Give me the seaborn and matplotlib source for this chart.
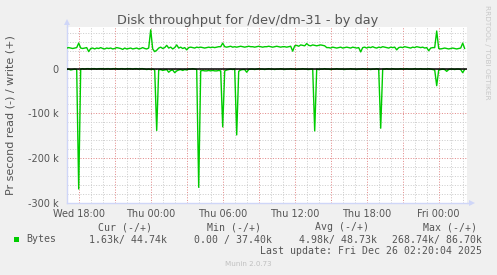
import matplotlib
matplotlib.use("Agg")
import numpy as np
import pandas as pd
import seaborn as sns
import matplotlib.pyplot as plt
import matplotlib.dates as mdates
from matplotlib.ticker import FixedLocator, FuncFormatter
from matplotlib.patches import Rectangle

# ---------------- data (k bytes per second, 10-minute samples) ----------------
start_time = "2025-12-24 17:00"
end_time = "2025-12-26 02:20"
sample_freq = "10min"

write_k = [46, 47, 46, 45, 46, 47,
           57,
           46, 45, 46, 47,
           38,
           45, 46, 44, 46, 45, 47, 45, 44, 46, 45, 46, 44, 45, 47, 46, 45, 43, 46, 44, 45,
           46, 44, 45, 46, 44, 45, 47, 45, 44, 46,
           86.7, 44, 38, 41,
           46, 48, 45, 47, 52, 46, 48, 44,
           47, 53, 46, 48, 45, 47, 42,
           47, 48, 47, 46, 48, 47, 48, 47, 46, 47, 48, 47, 48, 47, 48, 49,
           49, 57,
           49, 48, 49, 50, 48, 49, 48, 49, 50, 49, 48, 49, 50, 49, 49, 48, 49, 50, 49, 48,
           49, 49, 50, 49, 48, 49, 50, 49, 48, 49, 49, 48, 49, 50,
           39,
           51, 52, 50, 53, 52, 51, 56, 52, 51, 53, 52, 51, 52, 53, 52, 51,
           47,
           47, 46, 48, 47, 46, 47, 48, 46, 47, 48, 47, 46, 48, 47, 46, 47,
           37.4,
           47, 48, 46, 48, 47, 49, 47, 46, 48, 47, 49, 48, 47, 46, 48, 47, 48,
           42,
           47, 48, 47, 49, 48, 47, 46, 48, 47, 49, 48, 47, 48, 46, 47,
           40,
           46, 47,
           47, 84,
           45, 44, 45, 46, 45, 44, 45, 46, 45, 44, 45, 46,
           57, 44.7]

read_k = [2, 1, 3, 2, 1, 2,
          268.7,
          1, 0, 1, 0, 0, 1, 0, 0, 1, 0, 0, 0, 1, 0, 0, 1, 0, 0, 0, 1, 0, 0, 1, 0, 0, 0,
          1, 0, 0, 1, 0, 0, 1, 2, 1, 2, 1,
          3, 138, 3,
          2, 4, 3, 2, 8, 4, 3, 9, 5, 3, 2, 4, 2, 3,
          1, 1, 0, 1, 2,
          265,
          5, 4, 5, 5, 4, 5, 4, 5, 5, 4, 5,
          130,
          5, 3, 2, 1, 2, 1,
          148,
          6, 3, 2, 2,
          8,
          2, 1, 1, 2, 1, 0, 1, 1, 2, 1, 0, 1, 1, 2, 1, 1, 0, 1, 2, 1, 1, 0, 1, 1, 2, 1,
          1, 0, 1, 1, 2, 1, 1,
          139,
          1, 2, 1, 1, 0, 1, 1, 2, 1, 1, 0, 1, 1, 1, 2, 1, 1, 0, 1, 1, 2, 1, 1, 0, 1, 1,
          1, 2, 1, 1, 0, 1,
          133,
          1, 1, 0, 1, 1, 0, 1, 1, 1, 0, 1, 1, 0, 1, 1, 1, 0, 1, 1, 0, 1, 1, 1, 0, 1, 2, 3,
          38,
          3, 2, 1, 2, 6, 2, 1, 1, 2, 1, 1, 2, 9, 1.6]

y_major_ticks = [-300000, -200000, -100000, 0]
y_minor_ticks = [-280000, -260000, -240000, -220000, -180000, -160000, -140000, -120000,
                 -80000, -60000, -40000, -20000, 20000, 40000, 60000, 80000]
x_major_hours = [0, 3, 6, 9, 12, 15, 18, 21]
x_minor_hours = [1, 2, 4, 5, 7, 8, 10, 11, 13, 14, 16, 17, 19, 20, 22, 23]
y_min, y_max = -300000, 93000

title = "Disk throughput for /dev/dm-31 - by day"
y_label = "Pr second read (-) / write (+)"
legend_headers = ["Cur (-/+)", "Min (-/+)", "Avg (-/+)", "Max (-/+)"]
legend_values = ["1.63k/ 44.74k", "0.00 / 37.40k", "4.98k/ 48.73k", "268.74k/ 86.70k"]
series_name = "Bytes"
last_update = "Last update: Fri Dec 26 02:20:04 2025"
footer = "Munin 2.0.73"
side_text = "RRDTOOL / TOBI OETIKER"

times = pd.date_range(start_time, periods=len(write_k), freq=sample_freq)
df = pd.DataFrame({
    "time": times,
    "write": np.array(write_k, dtype=float) * 1000,
    "read": -np.array(read_k, dtype=float) * 1000,
})

# ---------------- styling ----------------
sns.set_theme(style="white")
plt.rcParams["font.family"] = ["DejaVu Sans"]

GREEN = "#00CC00"
TEXT = "#555555"
AXISC = "#CFD6F8"
MGRID = "#E28A8A"
GRID = "#CDCDCD"

W, H = 497, 275
fig = plt.figure(figsize=(W / 100, H / 100), dpi=100, facecolor="#F0F0F0")
ax = fig.add_axes([66.7 / W, (H - 203) / H, 400 / W, 176 / H])
ax.set_facecolor("white")

sns.lineplot(data=df, x="time", y="read", color=GREEN, lw=1.0, ax=ax, zorder=3)
sns.lineplot(data=df, x="time", y="write", color=GREEN, lw=1.0, ax=ax, zorder=3)
ax.axhline(0, color="black", lw=1.1, zorder=4)

ax.set_xlim(pd.Timestamp(start_time), pd.Timestamp(end_time))
ax.set_ylim(y_min, y_max)

ax.xaxis.set_major_locator(mdates.HourLocator(byhour=x_major_hours))
ax.xaxis.set_minor_locator(mdates.HourLocator(byhour=x_minor_hours))


def xfmt(v, pos):
    d = mdates.num2date(v)
    return d.strftime("%a %H:%M") if d.hour % 6 == 0 else ""


ax.xaxis.set_major_formatter(FuncFormatter(xfmt))
ax.yaxis.set_major_locator(FixedLocator(y_major_ticks))
ax.yaxis.set_minor_locator(FixedLocator(y_minor_ticks))
ax.yaxis.set_major_formatter(FuncFormatter(lambda v, p: "0" if abs(v) < 1 else f"{int(round(v / 1000))} k"))

dotted = (0, (1, 1.6))
ax.grid(which="minor", color=GRID, linestyle=dotted, lw=0.72)
ax.grid(which="major", color=MGRID, linestyle=dotted, lw=0.72)
ax.set_axisbelow(True)

ax.tick_params(axis="both", which="both", length=2, width=0.72, direction="out",
               labelsize=7, labelcolor=TEXT)
ax.tick_params(axis="both", which="major", color=MGRID)
ax.tick_params(axis="both", which="minor", color=GRID)
ax.tick_params(axis="x", which="major", pad=2.5)
ax.tick_params(axis="y", which="major", pad=3.8)

ax.set_xlabel("")
ax.set_ylabel("")
for s in ["top", "right"]:
    ax.spines[s].set_visible(False)
for s in ["left", "bottom"]:
    ax.spines[s].set_color(AXISC)
    ax.spines[s].set_linewidth(1.0)

# axis arrows
ax.plot([0, 0], [1, 1.025], color=AXISC, lw=1, transform=ax.transAxes, clip_on=False)
ax.plot([0], [1.03], marker="^", ms=4, color=AXISC, transform=ax.transAxes, clip_on=False, mew=0)
ax.plot([1, 1.01], [0, 0], color=AXISC, lw=1, transform=ax.transAxes, clip_on=False)
ax.plot([1.013], [0], marker=">", ms=4, color=AXISC, transform=ax.transAxes, clip_on=False, mew=0)

# ---------------- texts ----------------
def fx(x):
    return x / W


def fy(y):
    return 1 - y / H


fig.text(fx(248), fy(24), title, ha="center", va="baseline", fontsize=9.3, color=TEXT)
fig.text(fx(11), fy(115), y_label, ha="center", va="center", rotation=90, fontsize=8, color=TEXT)
fig.text(fx(487), fy(52), side_text, ha="center", va="center", rotation=270, fontsize=5.3,
         color="#C8C8C8")

mono = "DejaVu Sans Mono"
hdr_x = [98.3, 206.7, 315, 422.7]
val_x = [89.3, 194.3, 299, 392.3]
for x, t in zip(hdr_x, legend_headers):
    fig.text(fx(x), fy(230.5), t, ha="left", va="baseline", fontsize=7.1, family=mono, color=TEXT)
fig.add_artist(Rectangle((fx(14), fy(242.3)), 5.3 / W, 5 / H, transform=fig.transFigure,
                         color=GREEN, lw=0))
fig.text(fx(26.7), fy(242.5), series_name, ha="left", va="baseline", fontsize=7.1, family=mono,
         color=TEXT)
for x, t in zip(val_x, legend_values):
    fig.text(fx(x), fy(242.5), t, ha="left", va="baseline", fontsize=7.1, family=mono, color=TEXT)
fig.text(fx(482), fy(254.5), last_update, ha="right", va="baseline", fontsize=7.1, family=mono,
         color=TEXT)
fig.text(fx(248), fy(266), footer, ha="center", va="baseline", fontsize=5.1, color="#C0C0C0")

fig.savefig("out.png", dpi=100, facecolor=fig.get_facecolor())
